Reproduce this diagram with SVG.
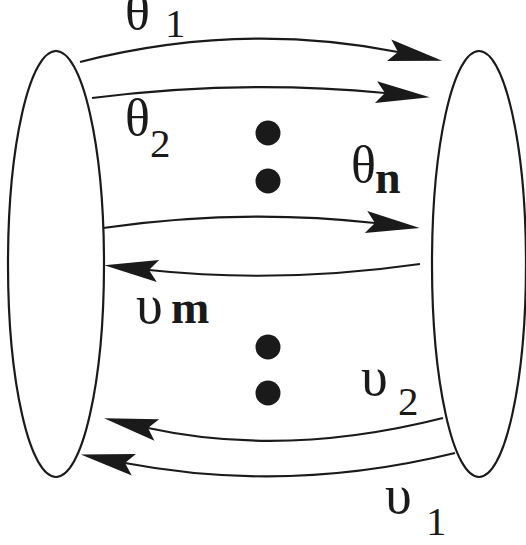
<svg xmlns="http://www.w3.org/2000/svg" width="526" height="545" viewBox="0 0 526 545">
<style>
.ell{fill:none;stroke:#1a1a1a;stroke-width:2.2}
.arr{fill:none;stroke:#1a1a1a;stroke-width:2.2;marker-end:url(#ah)}
.dot{fill:#1a1a1a}
text{font-family:"Liberation Serif","Times New Roman",serif;fill:#1a1a1a}
.g{font-size:52px}
.u{font-size:54px}
.s{font-size:41px}
.b{font-size:46px;font-weight:bold}
</style>
<defs>
<marker id="ah" markerUnits="userSpaceOnUse" orient="auto" viewBox="-10 -12 56 24" markerWidth="56" markerHeight="24" refX="0" refY="0" overflow="visible">
<path d="M45,0 L-9,-11 L0,0 L-9,11 Z" fill="#1a1a1a"/>
</marker>
</defs>
<rect width="526" height="545" fill="#fff"/>
<g id="left-node"><ellipse class="ell" cx="56" cy="264" rx="48" ry="213"/></g>
<g id="right-node"><ellipse class="ell" cx="479" cy="264" rx="47" ry="213"/></g>
<g id="connectors">
<path class="arr" d="M80,62 Q240,21 398,52"/>
<path class="arr" d="M92,98 Q240,79 385,93"/>
<path class="arr" d="M103,228 Q240,208 375,223"/>
<path class="arr" d="M420,264 Q280,284 149,270"/>
<path class="arr" d="M443,418 Q285,458 148,428"/>
<path class="arr" d="M455,453 Q288,494 125,463"/>
</g>
<g id="dots">
<circle class="dot" cx="268" cy="133" r="12.5"/>
<circle class="dot" cx="268" cy="181" r="12.5"/>
<circle class="dot" cx="268" cy="347" r="12.5"/>
<circle class="dot" cx="268" cy="393" r="12.5"/>
</g>
<g id="labels">
<text class="g" x="125" y="29">θ</text><text class="s" x="165" y="37">1</text>
<text class="g" x="125" y="135">θ</text><text class="s" x="150" y="157">2</text>
<text class="g" x="351" y="182">θ</text><text class="b" x="375" y="193">n</text>
<text class="u" x="136" y="323">υ</text><text class="b" x="171" y="323">m</text>
<text class="u" x="361" y="395">υ</text><text class="s" x="398" y="415">2</text>
<text class="u" x="385" y="513">υ</text><text class="s" x="426" y="535">1</text>
</g>
</svg>
